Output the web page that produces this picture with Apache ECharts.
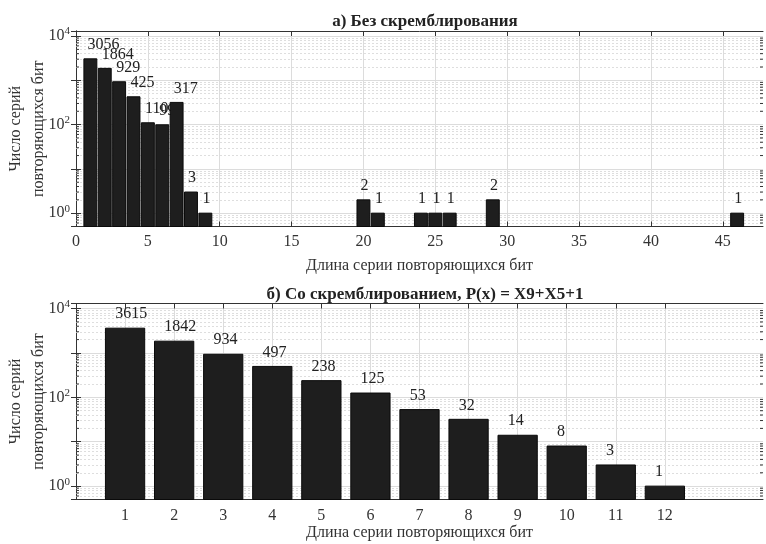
<!DOCTYPE html>
<html>
<head>
<meta charset="utf-8">
<script src="https://cdn.jsdelivr.net/npm/echarts@6/dist/echarts.min.js"></script>
<style>
  html, body { margin: 0; padding: 0; background: #fff; }
  #chart { width: 766px; height: 544px; }
</style>
</head>
<body>
<div id="chart"></div>
<script>
// Run-length statistics of repeated bits: raw stream vs. scrambled stream
const runLengthsRaw = [1, 2, 3, 4, 5, 6, 7, 8, 9, 20, 21, 24, 25, 26, 29, 46];
const runCountsRaw  = [3056, 1864, 929, 425, 110, 99, 317, 3, 1, 2, 1, 1, 1, 1, 2, 1];

const runLengthsScr = [1, 2, 3, 4, 5, 6, 7, 8, 9, 10, 11, 12];
const runCountsScr  = [3615, 1842, 934, 497, 238, 125, 53, 32, 14, 8, 3, 1];

const xTicksRaw = [0, 5, 10, 15, 20, 25, 30, 35, 40, 45];
const xTicksScr = [1, 2, 3, 4, 5, 6, 7, 8, 9, 10, 11, 12];
const yTickLabels = [1, 100, 10000];

const titleRaw = 'а) Без скремблирования';
const titleScr = 'б) Со скремблированием, P(x) = X9+X5+1';
const xName = 'Длина серии повторяющихся бит';
const yName = 'Число серий\nповторяющихся бит';

const FONT = '"Liberation Serif", "DejaVu Serif", serif';
const Y_MIN = 0.5, Y_MAX = 13000;
const AXIS_COLOR = '#333333';
const GRID_COLOR = '#dcdcdc';

const chart = echarts.init(document.getElementById('chart'), null, { renderer: 'canvas' });

// 2..9 × 10^k positions inside the log range
function minorValues(min, max) {
  const out = [];
  for (let e = -1; e <= 5; e++) {
    for (let m = 2; m <= 9; m++) {
      const v = m * Math.pow(10, e);
      if (v > min && v < max) out.push(v);
    }
  }
  return out;
}
const MINOR = minorValues(Y_MIN, Y_MAX);

function logLabel(v) {
  const e = Math.round(Math.log10(v));
  const p = Math.pow(10, e);
  if (Math.abs(p - v) > 1e-6 * p) return '';
  if (yTickLabels.indexOf(p) < 0) return '';
  return '10{sup|' + e + '}';
}

// bars drawn from the bottom of the log axis, with a value label above each
function barRenderer(barWidth, labelShift) {
  return function (params, api) {
    const x = api.value(0), y = api.value(1);
    const left = api.coord([x - barWidth / 2, y]);
    const right = api.coord([x + barWidth / 2, y]);
    const base = api.coord([x, Y_MIN]);
    const lab = api.coord([x - labelShift, y]);
    return {
      type: 'group',
      children: [
        {
          type: 'rect',
          shape: { x: left[0], y: left[1], width: right[0] - left[0], height: base[1] - left[1] },
          style: { fill: '#1e1e1e', stroke: '#0a0a0a', lineWidth: 1 }
        },
        {
          type: 'text',
          x: lab[0],
          y: left[1] - 6,
          style: {
            text: String(y), fill: '#222', fontFamily: FONT, fontSize: 16,
            align: 'left', verticalAlign: 'bottom'
          }
        }
      ]
    };
  };
}

// short inward minor ticks on the left and right frame edges
function minorTickRenderer(xMin) {
  return function (params, api) {
    const p = api.coord([xMin, api.value(1)]);
    const cs = params.coordSys;
    const style = { stroke: AXIS_COLOR, lineWidth: 1 };
    return {
      type: 'group',
      children: [
        { type: 'line', shape: { x1: cs.x, y1: p[1], x2: cs.x + 3, y2: p[1] }, style },
        { type: 'line', shape: { x1: cs.x + cs.width - 3, y1: p[1], x2: cs.x + cs.width, y2: p[1] }, style }
      ]
    };
  };
}

function valueXAxis(gridIndex, min, max, interval, extra) {
  return Object.assign({
    gridIndex, type: 'value', min, max, interval, position: 'bottom',
    axisLine: { show: true, onZero: false, lineStyle: { color: AXIS_COLOR, width: 1 } },
    axisTick: { show: true, inside: true, length: 5, lineStyle: { color: AXIS_COLOR } },
    axisLabel: { show: true, color: '#333', fontFamily: FONT, fontSize: 16, margin: 7 },
    splitLine: { show: true, lineStyle: { color: GRID_COLOR, width: 1 } }
  }, extra || {});
}

function topXAxis(gridIndex, min, max, interval, extra) {
  return Object.assign({
    gridIndex, type: 'value', min, max, interval, position: 'top',
    axisLine: { show: true, onZero: false, lineStyle: { color: AXIS_COLOR, width: 1 } },
    axisTick: { show: true, inside: true, length: 5, lineStyle: { color: AXIS_COLOR } },
    axisLabel: { show: false },
    splitLine: { show: false }
  }, extra || {});
}

function logYAxis(gridIndex, position, withLabels) {
  return {
    gridIndex, type: 'log', logBase: 10, min: Y_MIN, max: Y_MAX, position,
    axisLine: { show: true, lineStyle: { color: AXIS_COLOR, width: 1 } },
    axisTick: { show: true, inside: true, length: 5, lineStyle: { color: AXIS_COLOR } },
    axisLabel: withLabels ? {
      show: true, color: '#333', fontFamily: FONT, fontSize: 16, margin: 6,
      formatter: logLabel,
      rich: { sup: { fontFamily: FONT, fontSize: 11, color: '#333', padding: [0, 0, 9, 0] } }
    } : { show: false },
    splitLine: withLabels ? { show: true, lineStyle: { color: GRID_COLOR, width: 1 } } : { show: false },
    name: withLabels ? yName : '',
    nameLocation: 'middle',
    nameRotate: 90,
    nameGap: 26,
    nameMoveOverlap: false,
    nameTextStyle: { fontFamily: FONT, fontSize: 16, color: '#333', lineHeight: 23 }
  };
}

function minorSeries(xIdx, yIdx) {
  return {
    type: 'line', xAxisIndex: xIdx, yAxisIndex: yIdx, data: [], z: 1, silent: true,
    markLine: {
      silent: true, symbol: ['none', 'none'], animation: false, z: 1,
      label: { show: false },
      lineStyle: { color: '#dedede', width: 1, type: [2, 2] },
      data: MINOR.map(v => ({ yAxis: v }))
    }
  };
}

function minorTickSeries(xIdx, yIdx, xMin) {
  return {
    type: 'custom', xAxisIndex: xIdx, yAxisIndex: yIdx, z: 12, silent: true,
    renderItem: minorTickRenderer(xMin),
    encode: { x: 0, y: 1 },
    data: MINOR.map(v => [xMin, v])
  };
}

const option = {
  animation: false,
  backgroundColor: '#ffffff',
  title: [
    { text: titleRaw, left: 420, top: 8, textAlign: 'center',
      textStyle: { fontFamily: FONT, fontSize: 17, fontWeight: 'bold', color: '#222' } },
    { text: titleScr, left: 420, top: 281, textAlign: 'center',
      textStyle: { fontFamily: FONT, fontSize: 17, fontWeight: 'bold', color: '#222' } }
  ],
  grid: [
    { left: 76, right: 3, top: 31, height: 195.5, outerBoundsMode: 'none', containLabel: false },
    { left: 76, right: 3, top: 303.5, height: 196, outerBoundsMode: 'none', containLabel: false }
  ],
  xAxis: [
    valueXAxis(0, 0, 47.8, 5, {
      axisLabel: { show: true, color: '#333', fontFamily: FONT, fontSize: 16, margin: 7, customValues: xTicksRaw },
      axisTick: { show: true, inside: true, length: 5, lineStyle: { color: AXIS_COLOR }, customValues: xTicksRaw },
      name: xName, nameLocation: 'middle', nameGap: 31,
      nameTextStyle: { fontFamily: FONT, fontSize: 16, color: '#333' }
    }),
    topXAxis(0, 0, 47.8, 5, {
      axisTick: { show: true, inside: true, length: 5, lineStyle: { color: AXIS_COLOR }, customValues: xTicksRaw }
    }),
    valueXAxis(1, 0, 14, 1, {
      axisLabel: { show: true, color: '#333', fontFamily: FONT, fontSize: 16, margin: 8, customValues: xTicksScr },
      axisTick: { show: true, inside: true, length: 5, lineStyle: { color: AXIS_COLOR }, customValues: xTicksScr },
      name: xName, nameLocation: 'middle', nameGap: 24,
      nameTextStyle: { fontFamily: FONT, fontSize: 16, color: '#333' }
    }),
    topXAxis(1, 0, 14, 1, {
      axisTick: { show: true, inside: true, length: 5, lineStyle: { color: AXIS_COLOR }, customValues: xTicksScr }
    })
  ],
  yAxis: [
    logYAxis(0, 'left', true),
    logYAxis(0, 'right', false),
    logYAxis(1, 'left', true),
    logYAxis(1, 'right', false)
  ],
  series: [
    minorSeries(0, 0),
    minorSeries(2, 2),
    {
      type: 'custom', xAxisIndex: 0, yAxisIndex: 0, z: 10,
      renderItem: barRenderer(0.9, 0.2),
      encode: { x: 0, y: 1 },
      data: runLengthsRaw.map((x, i) => [x, runCountsRaw[i]])
    },
    {
      type: 'custom', xAxisIndex: 2, yAxisIndex: 2, z: 10,
      renderItem: barRenderer(0.8, 0.2),
      encode: { x: 0, y: 1 },
      data: runLengthsScr.map((x, i) => [x, runCountsScr[i]])
    },
    minorTickSeries(0, 0, 0),
    minorTickSeries(2, 2, 0)
  ]
};

chart.setOption(option);
</script>
</body>
</html>
